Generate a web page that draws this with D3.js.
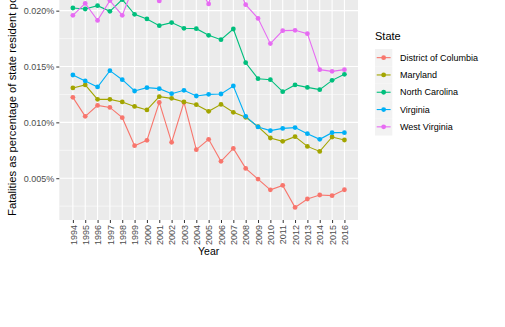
<!DOCTYPE html>
<html>
<head>
<meta charset="utf-8">
<title>Fatalities by state</title>
<script src="https://d3js.org/d3.v7.min.js"></script>
<style>
  body { margin: 0; background: #fff; }
  svg { display: block; font-family: "Liberation Sans", Arial, sans-serif; }
</style>
</head>
<body>
<div id="chart"></div>
<script>
// data (percent of state residents)
var years = d3.range(1994, 2017);
var states = ["District of Columbia", "Maryland", "North Carolina", "Virginia", "West Virginia"];
var colors = ["#F8766D", "#A3A500", "#00BF7D", "#00B0F6", "#E76BF3"];

var dc = [0.01224, 0.01054, 0.01152, 0.01134, 0.01042, 0.00791, 0.00839, 0.01179, 0.00821, 0.01179,
          0.00756, 0.00848, 0.00651, 0.00767, 0.00588, 0.00492, 0.00396, 0.00436, 0.00239, 0.00314,
          0.00350, 0.00344, 0.00397];
var md = [0.01308, 0.01335, 0.01206, 0.01206, 0.01183, 0.01143, 0.01111, 0.01230, 0.01215, 0.01183,
          0.01158, 0.01099, 0.01161, 0.01090, 0.01045, 0.00962, 0.00860, 0.00830, 0.00872, 0.00785,
          0.00740, 0.00869, 0.00842];
var nc = [0.02024, 0.02015, 0.02045, 0.01994, 0.02100, 0.01967, 0.01926, 0.01866, 0.01893, 0.01842,
          0.01839, 0.01779, 0.01740, 0.01836, 0.01534, 0.01391, 0.01382, 0.01275, 0.01335, 0.01313,
          0.01293, 0.01376, 0.01430];
var va = [0.01424, 0.01371, 0.01317, 0.01463, 0.01382, 0.01281, 0.01311, 0.01302, 0.01257, 0.01287,
          0.01236, 0.01251, 0.01254, 0.01326, 0.01054, 0.00959, 0.00926, 0.00946, 0.00953, 0.00899,
          0.00848, 0.00908, 0.00908];
var wv = [0.01958, 0.02065, 0.01913, 0.02090, 0.01958, 0.02240, 0.02350, 0.02087, 0.02520, 0.02380,
          0.02240, 0.02060, 0.02450, 0.02310, 0.02054, 0.01931, 0.01705, 0.01821, 0.01824, 0.01794,
          0.01472, 0.01457, 0.01472];
var seriesValues = [dc, md, nc, va, wv];

var yMajor = [0.005, 0.010, 0.015, 0.020, 0.025];
var yMinor = [0.0025, 0.0075, 0.0125, 0.0175, 0.0225];
var yLimits = [0.00126, 0.0263];

// layout
var W = 505, H = 327;
var panel = {left: 59.3, right: 358, top: -59.7, bottom: 220};

var svg = d3.select("#chart").append("svg")
  .attr("width", W).attr("height", H);

var x = d3.scaleLinear()
  .domain([1994 - 1.1, 2016 + 1.1])
  .range([panel.left, panel.right]);
var y = d3.scaleLinear()
  .domain(yLimits)
  .range([panel.bottom, panel.top]);

// panel
svg.append("rect")
  .attr("x", panel.left).attr("y", panel.top)
  .attr("width", panel.right - panel.left)
  .attr("height", panel.bottom - panel.top)
  .attr("fill", "#ebebeb");

var grid = svg.append("g");
grid.selectAll(".minor").data(yMinor).enter().append("line")
  .attr("x1", panel.left).attr("x2", panel.right)
  .attr("y1", d => y(d)).attr("y2", d => y(d))
  .attr("stroke", "#fff").attr("stroke-width", 0.55);
grid.selectAll(".majy").data(yMajor).enter().append("line")
  .attr("x1", panel.left).attr("x2", panel.right)
  .attr("y1", d => y(d)).attr("y2", d => y(d))
  .attr("stroke", "#fff").attr("stroke-width", 1.1);
grid.selectAll(".majx").data(years).enter().append("line")
  .attr("x1", d => x(d)).attr("x2", d => x(d))
  .attr("y1", panel.top).attr("y2", panel.bottom)
  .attr("stroke", "#fff").attr("stroke-width", 1.1);

// axes
var yAxis = d3.axisLeft(y)
  .tickValues(yMajor)
  .tickSize(3)
  .tickPadding(2)
  .tickFormat(d => d3.format(".3f")(d) + "%");
var gy = svg.append("g")
  .attr("transform", `translate(${panel.left},0)`)
  .call(yAxis);
gy.select(".domain").remove();
gy.selectAll(".tick line").attr("stroke", "#333");
gy.selectAll(".tick text")
  .attr("fill", "#4d4d4d")
  .style("font-size", "9px")
  .style("font-family", "Liberation Sans, Arial, sans-serif");

var xAxis = d3.axisBottom(x)
  .tickValues(years)
  .tickSize(3)
  .tickFormat(d3.format("d"));
var gx = svg.append("g")
  .attr("transform", `translate(0,${panel.bottom})`)
  .call(xAxis);
gx.select(".domain").remove();
gx.selectAll(".tick line").attr("stroke", "#333");
gx.selectAll(".tick text")
  .attr("fill", "#4d4d4d")
  .style("font-size", "9px")
  .style("font-family", "Liberation Sans, Arial, sans-serif")
  .attr("transform", "rotate(-90)")
  .attr("x", -5)
  .attr("y", 0)
  .attr("dy", "0.35em")
  .attr("text-anchor", "end");

// axis titles
svg.append("text")
  .attr("x", (panel.left + panel.right) / 2)
  .attr("y", 254.5)
  .attr("text-anchor", "middle")
  .style("font-size", "10.5px")
  .attr("fill", "#000")
  .text("Year");
svg.append("text")
  .attr("transform", "translate(15.5,216) rotate(-90)")
  .attr("text-anchor", "start")
  .style("font-size", "11.3px")
  .attr("fill", "#000")
  .text("Fatalities as percentage of state resident population");

// lines and points
var line = d3.line()
  .x((d, i) => x(years[i]))
  .y(d => y(d));

var plot = svg.append("g");
seriesValues.forEach(function (vals, k) {
  plot.append("path")
    .datum(vals)
    .attr("d", line)
    .attr("fill", "none")
    .attr("stroke", colors[k])
    .attr("stroke-width", 1.1);
});
seriesValues.forEach(function (vals, k) {
  plot.append("g").selectAll("circle")
    .data(vals).enter().append("circle")
    .attr("cx", (d, i) => x(years[i]))
    .attr("cy", d => y(d))
    .attr("r", 2.4)
    .attr("fill", colors[k]);
});

// legend
var legend = svg.append("g").attr("transform", "translate(375,0)");
legend.append("text")
  .attr("x", 0).attr("y", 40)
  .style("font-size", "11px")
  .attr("fill", "#000")
  .text("State");
var items = legend.selectAll(".item").data(states).enter().append("g")
  .attr("transform", (d, i) => `translate(0,${49 + i * 17.3})`);
items.append("rect")
  .attr("width", 17.3).attr("height", 17.3)
  .attr("fill", "#f2f2f2");
items.append("line")
  .attr("x1", 1.7).attr("x2", 15.6)
  .attr("y1", 8.65).attr("y2", 8.65)
  .attr("stroke", (d, i) => colors[i])
  .attr("stroke-width", 1.1);
items.append("circle")
  .attr("cx", 8.65).attr("cy", 8.65).attr("r", 2.4)
  .attr("fill", (d, i) => colors[i]);
items.append("text")
  .attr("x", 25).attr("y", 8.65)
  .attr("dy", "0.35em")
  .style("font-size", "9px")
  .attr("fill", "#000")
  .text(d => d);
</script>
</body>
</html>
